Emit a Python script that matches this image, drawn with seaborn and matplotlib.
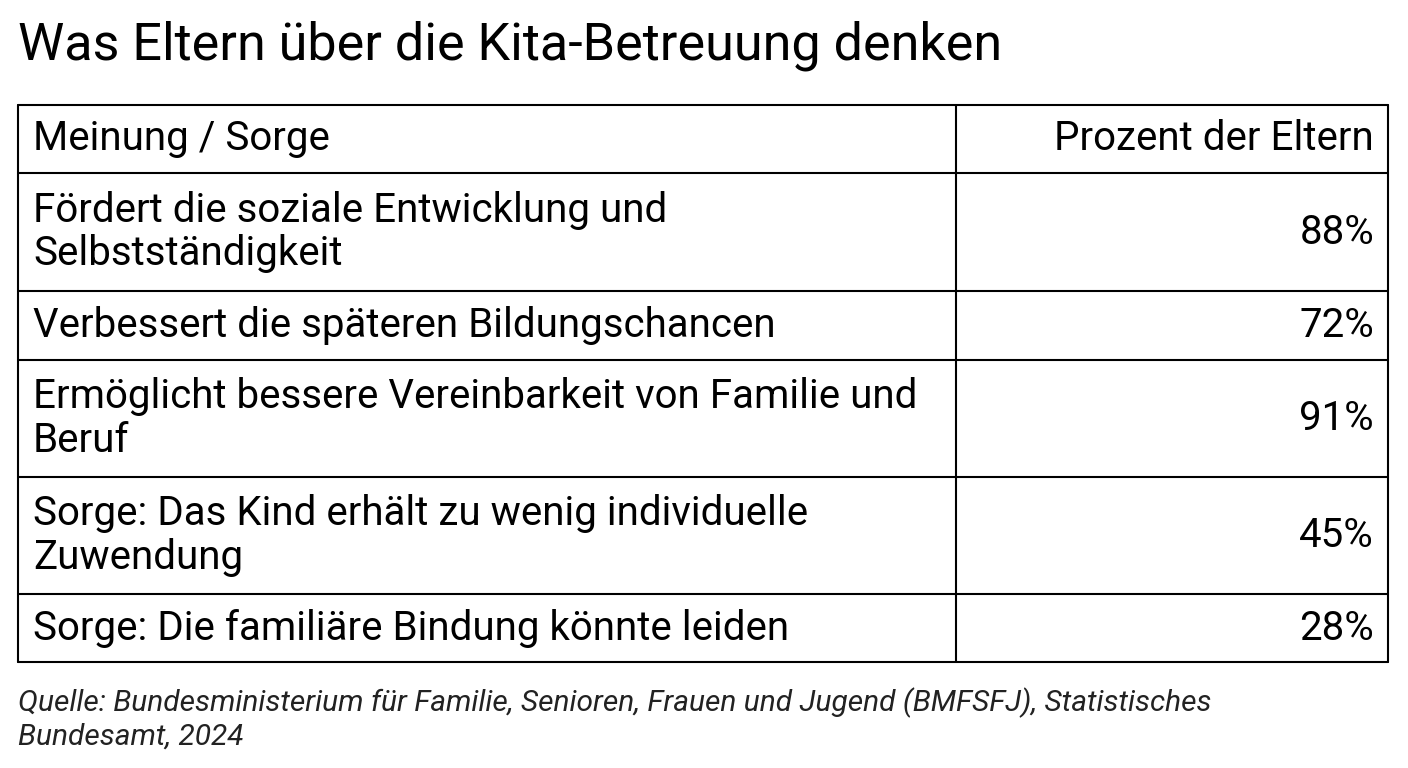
import matplotlib
matplotlib.use("Agg")
import matplotlib.pyplot as plt
import seaborn as sns

# Daten
titel = "Was Eltern über die Kita-Betreuung denken"
kopf = ["Meinung / Sorge", "Prozent der Eltern"]
meinungen = [
    "Fördert die soziale Entwicklung und\nSelbstständigkeit",
    "Verbessert die späteren Bildungschancen",
    "Ermöglicht bessere Vereinbarkeit von Familie und\nBeruf",
    "Sorge: Das Kind erhält zu wenig individuelle\nZuwendung",
    "Sorge: Die familiäre Bindung könnte leiden",
]
prozent = [88, 72, 91, 45, 28]
quelle = ("Quelle: Bundesministerium für Familie, Senioren, Frauen und Jugend (BMFSFJ), Statistisches\n"
          "Bundesamt, 2024")

sns.set_theme(style="white")
plt.rcParams['font.family'] = ['Roboto', 'DejaVu Sans']

fig = plt.figure(figsize=(14.08, 7.68), dpi=100)
ax = fig.add_axes([0, 0, 1, 1])
ax.set_xlim(0, 1408)
ax.set_ylim(768, 0)
ax.axis("off")

# Zeilengrenzen (Pixel)
grenzen = [105, 173, 291, 360, 477, 594, 662]
links, mitte, rechts = 18, 956, 1388

ax.text(links, 46, titel, fontsize=37.5, va="center", ha="left", color="black")

for y in grenzen:
    ax.plot([links, rechts], [y, y], color="black", lw=1.5)
for x in [links, mitte, rechts]:
    ax.plot([x, x], [grenzen[0], grenzen[-1]], color="black", lw=1.5)

fs = 29
ax.text(33, (grenzen[0] + grenzen[1]) / 2, kopf[0], fontsize=fs, va="center", ha="left", color="black")
ax.text(1374, (grenzen[0] + grenzen[1]) / 2, kopf[1], fontsize=fs, va="center", ha="right", color="black")

for i, (m, p) in enumerate(zip(meinungen, prozent)):
    yc = (grenzen[i + 1] + grenzen[i + 2]) / 2
    ax.text(33, yc, m, fontsize=fs, va="center", ha="left", linespacing=1.15, color="black")
    ax.text(1374, yc, f"{p}%", fontsize=fs, va="center", ha="right", color="black")

ax.text(links, 719, quelle, fontsize=21.5, style="italic", va="center", ha="left",
        linespacing=1.25, color="#222222")

fig.savefig("out.png", dpi=100)
